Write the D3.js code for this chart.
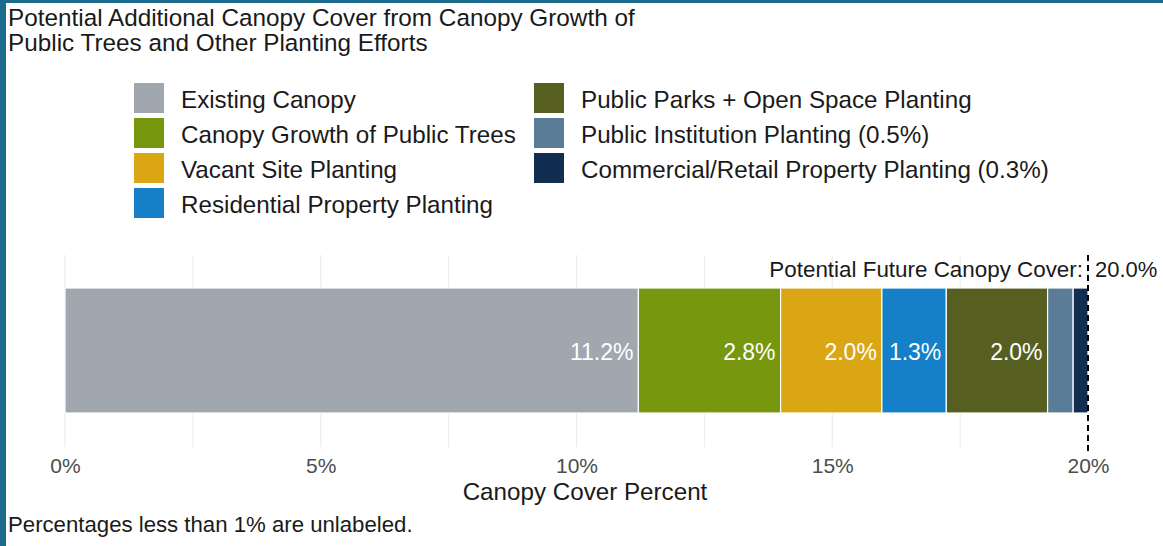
<!DOCTYPE html>
<html><head><meta charset="utf-8">
<script src="https://cdn.jsdelivr.net/npm/d3@7"></script>
<style>
html,body{margin:0;padding:0;background:#fff;}
svg{display:block;font-family:"Liberation Sans",Arial,sans-serif;}
</style></head>
<body>
<svg id="chart" width="1163" height="546"></svg>
<script>
// ---- data ----
const categories = ["Existing Canopy","Canopy Growth of Public Trees","Vacant Site Planting","Residential Property Planting","Public Parks + Open Space Planting","Public Institution Planting (0.5%)","Commercial/Retail Property Planting (0.3%)"];
const values = [11.21, 2.78, 1.98, 1.26, 1.98, 0.50, 0.29];
const colors = ["#a0a7ae","#77970f","#daa614","#1580c8","#565f20","#5b7c96","#112d50"];
const tickValues = [0, 5, 10, 15, 20];
const tickLabels = ["0%","5%","10%","15%","20%"];
const minorTicks = [2.5, 7.5, 12.5, 17.5];
const totalValue = 20.0;
const titleLines = ["Potential Additional Canopy Cover from Canopy Growth of","Public Trees and Other Planting Efforts"];
const annotationText = "Potential Future Canopy Cover:";
const axisTitle = "Canopy Cover Percent";
const caption = "Percentages less than 1% are unlabeled.";

const svg = d3.select("#chart");
const ink = "#1a1a1a";
// border
svg.append("rect").attr("x",0).attr("y",0).attr("width",1163).attr("height",546).attr("fill","#fff");
svg.append("rect").attr("x",0).attr("y",0).attr("width",6).attr("height",546).attr("fill","#1c6a8c");
svg.append("rect").attr("x",0).attr("y",0).attr("width",1163).attr("height",3).attr("fill","#1c6a8c");

// title
svg.append("text").attr("x",8).attr("y",26).attr("font-size",24.3).attr("fill",ink)
  .selectAll("tspan").data(titleLines).join("tspan")
  .attr("x",8).attr("dy",(d,i)=>i?24.5:0).text(d=>d);

// legend
const legendCols = [[0,1,2,3],[4,5,6]];
const colX = [134, 534];
const rowY0 = 98, rowStep = 35;
legendCols.forEach((col, ci) => {
  col.forEach((k, ri) => {
    const cy = rowY0 + ri*rowStep;
    svg.append("rect").attr("x",colX[ci]).attr("y",cy-15).attr("width",30).attr("height",30).attr("fill",colors[k]);
    svg.append("text").attr("x",colX[ci]+47).attr("y",cy+9.5).attr("font-size",24.2).attr("fill",ink).text(categories[k]);
  });
});

// scales
const x = d3.scaleLinear().domain([0,20]).range([65,1088]);
const barTop = 288, barBottom = 413;
const gridTop = 255, gridBottom = 447;

// gridlines
svg.append("g").selectAll("line").data(minorTicks.concat(tickValues)).join("line")
  .attr("x1",d=>x(d)).attr("x2",d=>x(d)).attr("y1",gridTop).attr("y2",gridBottom)
  .attr("stroke","#ebebeb").attr("stroke-width",d=>minorTicks.includes(d)?1:1.2);

// stacked bars
let acc = 0;
const segs = values.map((v,i)=>{ const s={start:acc,end:acc+v,v,i}; acc+=v; return s; });
svg.append("g").selectAll("rect").data(segs).join("rect")
  .attr("x",d=>x(d.start)).attr("width",d=>x(d.end)-x(d.start))
  .attr("y",barTop).attr("height",barBottom-barTop)
  .attr("fill",d=>colors[d.i]).attr("stroke","#fff").attr("stroke-width",1.2);

// labels
svg.append("g").selectAll("text").data(segs.filter(d=>d.v>=1)).join("text")
  .attr("x",d=>x(d.end)-5).attr("y",360)
  .attr("text-anchor","end").attr("font-size",23).attr("fill","#fff")
  .text(d=>d3.format(".1f")(d.v)+"%");

// dashed total line
svg.append("line").attr("x1",x(totalValue)).attr("x2",x(totalValue))
  .attr("y1",gridTop).attr("y2",gridBottom+4)
  .attr("stroke","#000").attr("stroke-width",2).attr("stroke-dasharray","6,4");

// annotation
svg.append("text").attr("x",x(totalValue)-5).attr("y",277).attr("text-anchor","end")
  .attr("font-size",22.4).attr("fill",ink).text(annotationText);
svg.append("text").attr("x",x(totalValue)+7).attr("y",277).attr("text-anchor","start")
  .attr("font-size",22).attr("fill",ink).text(d3.format(".1f")(totalValue)+"%");

// x axis
const axis = d3.axisBottom(x).tickValues(tickValues).tickFormat((d,i)=>tickLabels[i]).tickSize(0).tickPadding(0);
const gx = svg.append("g").attr("transform","translate(0,0)").call(axis);
gx.select(".domain").remove();
gx.selectAll("text").attr("font-size",21).attr("fill","#4d4d4d").attr("font-family","Liberation Sans, Arial, sans-serif").attr("dy",0).attr("y",473);

// axis title
svg.append("text").attr("x",585).attr("y",500).attr("text-anchor","middle")
  .attr("font-size",24.2).attr("fill",ink).text(axisTitle);

// caption
svg.append("text").attr("x",8).attr("y",532).attr("font-size",22.2).attr("fill",ink).text(caption);
</script>
</body></html>
